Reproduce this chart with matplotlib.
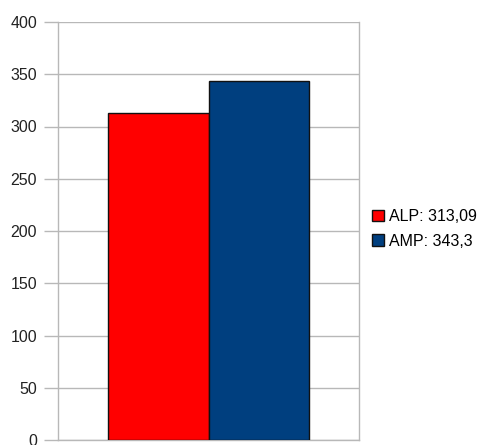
import matplotlib
matplotlib.use("Agg")
import matplotlib.pyplot as plt
from matplotlib.patches import Patch

series = ["ALP", "AMP"]
values = [313.09, 343.3]
value_labels = ["313,09", "343,3"]
colors = ["#ff0000", "#003f7f"]
yticks = [0, 50, 100, 150, 200, 250, 300, 350, 400]

plt.rcParams["font.family"] = ["Liberation Sans", "DejaVu Sans"]

fig = plt.figure(figsize=(4.91, 4.45), dpi=100)
ax = fig.add_axes([58 / 491, 5 / 445, 301 / 491, 418 / 445])

grid_c = "#b8b8b8"
positions = [1 + i for i in range(len(values))]
for pos, val, col in zip(positions, values, colors):
    ax.bar(pos, val, width=1.0, color=col, edgecolor="#111111", linewidth=1.0, zorder=3)

ax.set_xlim(0, 3)
ax.set_ylim(0, 400)
ax.set_yticks(yticks)
ax.set_yticklabels([str(t) for t in yticks], fontsize=11.5, color="#222222")
ax.set_xticks([])
ax.yaxis.grid(True, color=grid_c, linewidth=1.0, zorder=0)
ax.tick_params(axis="y", length=10, width=1.0, color=grid_c, pad=5)
for side in ["left", "right", "bottom"]:
    ax.spines[side].set_color(grid_c)
    ax.spines[side].set_linewidth(1.0)
ax.spines["top"].set_visible(False)

handles = [Patch(facecolor=c, edgecolor="#111111", linewidth=1.0) for c in colors]
labels = [f"{s}: {v}" for s, v in zip(series, value_labels)]
fig.legend(handles, labels, loc="center left",
           bbox_to_anchor=(372 / 491, 1 - 229 / 445),
           frameon=False, fontsize=11.5, handlelength=0.75, handleheight=0.75,
           handletextpad=0.3, labelspacing=0.6, borderpad=0, borderaxespad=0)

fig.savefig("out.png", dpi=100)
